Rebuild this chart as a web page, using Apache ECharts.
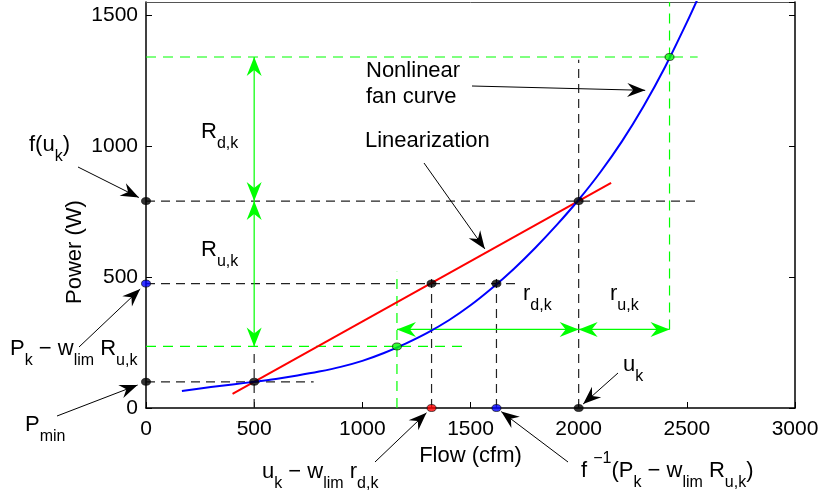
<!DOCTYPE html>
<html>
<head>
<meta charset="utf-8">
<script src="https://cdn.jsdelivr.net/npm/echarts@6/dist/echarts.min.js"></script>
<style>
  html, body { margin: 0; background: #fff; }
  #chart { width: 826px; height: 500px; }
</style>
</head>
<body>
<div id="chart"></div>
<script>
// values: flow in cfm, power in W
const xTicks = [0, 500, 1000, 1500, 2000, 2500, 3000];
const yTicks = [0, 500, 1000, 1500];
const yMax = 1550;

const fanCurve = [
  [166, 65], [300, 80], [400, 90], [500, 100], [600, 111], [700, 124],
  [800, 139], [900, 157], [1000, 180], [1100, 210], [1200, 246],
  [1300, 287], [1400, 335], [1500, 392], [1600, 458], [1700, 531],
  [1800, 612], [1900, 700], [2000, 795], [2100, 900], [2200, 1018],
  [2300, 1152], [2400, 1303], [2500, 1472], [2560, 1580]
];
const linearization = [[400, 54], [2150, 859]];

const blackPoints = [[0, 790], [0, 100], [500, 100], [1320, 475], [1620, 475], [2000, 790], [2000, 0]];
const bluePoints = [[0, 475], [1620, 0]];
const redPoints = [[1320, 0]];
const greenPoints = [[1160, 235], [2420, 1340]];

const blackGuides = [
  [[0, 790], [2550, 790]],
  [[2000, 0], [2000, 1330]],
  [[0, 475], [1720, 475]],
  [[1320, 0], [1320, 515]],
  [[1620, 0], [1620, 515]],
  [[0, 100], [775, 100]],
  [[500, 0], [500, 225]]
];
const greenGuides = [
  [[0, 1340], [2550, 1340]],
  [[2420, 300], [2420, 1550]],
  [[0, 235], [1470, 235]],
  [[1160, 0], [1160, 520]]
];
// R_d,k, R_u,k, r_d,k, r_u,k
const rangeArrows = [
  [[500, 1340], [500, 790]],
  [[500, 790], [500, 235]],
  [[1160, 300], [2000, 300]],
  [[2000, 300], [2420, 300]]
];

const FONT = '"Liberation Sans", Arial, sans-serif';
const GREEN = '#00ff00';

const chart = echarts.init(document.getElementById('chart'));

const guideSeries = (segs, color, dash) => segs.map((seg) => ({
  type: 'line',
  data: seg,
  symbol: 'none',
  silent: true,
  lineStyle: { color: color, width: 1.2, type: dash }
}));

const dots = (data, color) => ({
  type: 'scatter',
  data: data,
  symbol: 'circle',
  symbolSize: [9, 7],
  clip: false,
  z: 5,
  itemStyle: { color: color, borderColor: '#000', borderWidth: 0.8 }
});

const frameAxis = {
  type: 'value',
  axisLine: { onZero: false, lineStyle: { color: '#000', width: 1.5 } },
  axisTick: { inside: true, length: 6, lineStyle: { color: '#000' } },
  splitLine: { show: false }
};

const option = {
  animation: false,
  grid: { left: 146, right: 31, top: 2, bottom: 92, outerBoundsMode: 'none' },
  xAxis: [
    {
      ...frameAxis,
      min: xTicks[0],
      max: xTicks[xTicks.length - 1],
      interval: xTicks[1] - xTicks[0],
      name: 'Flow (cfm)',
      nameLocation: 'middle',
      nameGap: 33,
      nameTextStyle: { color: '#000', fontSize: 22, fontFamily: FONT },
      axisLabel: { color: '#000', fontSize: 21, fontFamily: FONT, margin: 11, formatter: (v) => String(v) }
    },
    {
      ...frameAxis,
      position: 'top',
      min: xTicks[0],
      max: xTicks[xTicks.length - 1],
      axisLine: { onZero: false, lineStyle: { color: '#555', width: 1 } },
      axisTick: { show: false },
      axisLabel: { show: false }
    }
  ],
  yAxis: [
    {
      ...frameAxis,
      min: yTicks[0],
      max: yMax,
      interval: yTicks[1] - yTicks[0],
      axisLabel: {
        color: '#000', fontSize: 21, fontFamily: FONT, margin: 8,
        showMaxLabel: false, formatter: (v) => String(v)
      }
    },
    {
      ...frameAxis,
      position: 'right',
      min: yTicks[0],
      max: yMax,
      interval: yTicks[1] - yTicks[0],
      axisLabel: { show: false }
    }
  ],
  series: [
    ...guideSeries(blackGuides, '#222', [9, 6]),
    ...guideSeries(greenGuides, GREEN, [10, 7]),
    ...rangeArrows.map((seg) => ({
      type: 'line', data: seg, symbol: 'none', silent: true,
      lineStyle: { color: GREEN, width: 1.2 }
    })),
    {
      type: 'line',
      data: linearization,
      symbol: 'none',
      lineStyle: { color: '#ff0000', width: 2 }
    },
    {
      type: 'line',
      data: fanCurve,
      smooth: 0.3,
      symbol: 'none',
      lineStyle: { color: '#0000ff', width: 2 }
    },
    dots(blackPoints, '#000'),
    dots(bluePoints, '#0000ff'),
    dots(redPoints, '#ff0000'),
    dots(greenPoints, GREEN)
  ]
};
chart.setOption(option);

// ---- annotations (arrows and TeX-like labels) ----
const px = (p) => chart.convertToPixel({ gridIndex: 0 }, p);

function head(tip, from, len, half, notch, color) {
  const dx = tip[0] - from[0];
  const dy = tip[1] - from[1];
  const d = Math.hypot(dx, dy);
  const ux = dx / d, uy = dy / d;
  const bx = tip[0] - ux * len, by = tip[1] - uy * len;
  return {
    type: 'polygon',
    z: 20,
    shape: {
      points: [
        tip,
        [bx - uy * half, by + ux * half],
        [tip[0] - ux * notch, tip[1] - uy * notch],
        [bx + uy * half, by - ux * half]
      ]
    },
    style: { fill: color }
  };
}

// label-side tail in pixels, target in data units
const callouts = [
  { from: [78, 167], to: [0, 790], gap: 8 },
  { from: [472, 86], to: [2340, 1212], gap: 7 },
  { from: [424, 163], to: [1577, 595], gap: 4 },
  { from: [79, 347], to: [0, 475], gap: 8 },
  { from: [57, 416], to: [0, 100], gap: 9 },
  { from: [375, 462], to: [1320, 0], gap: 7 },
  { from: [568, 462], to: [1620, 0], gap: 6 },
  { from: [618, 373], to: [2000, 0], gap: 6 }
];

const rich = {
  m: { fontSize: 22, lineHeight: 40, fontFamily: FONT, fill: '#000' },
  s: { fontSize: 16, lineHeight: 16, fontFamily: FONT, fill: '#000', verticalAlign: 'bottom' },
  p: { fontSize: 16, lineHeight: 16, fontFamily: FONT, fill: '#000', verticalAlign: 'top' }
};
const labels = [
  { x: 29, mid: 145, text: '{m|f(u}{s|k}{m|)}' },
  { x: 201, mid: 132, text: '{m|R}{s|d,k}' },
  { x: 201, mid: 250, text: '{m|R}{s|u,k}' },
  { x: 523, mid: 294, text: '{m|r}{s|d,k}' },
  { x: 610, mid: 294, text: '{m|r}{s|u,k}' },
  { x: 623, mid: 365, text: '{m|u}{s|k}' },
  { x: 10, mid: 349, text: '{m|P}{s|k}{m| − w}{s|lim}{m| R}{s|u,k}' },
  { x: 25, mid: 425, text: '{m|P}{s|min}' },
  { x: 262, mid: 472, text: '{m|u}{s|k}{m| − w}{s|lim}{m| r}{s|d,k}' },
  { x: 581, mid: 471, text: '{m|f }{p|−1}{m|(P}{s|k}{m| − w}{s|lim}{m| R}{s|u,k}{m|)}' }
];

const graphic = [];

rangeArrows.forEach(([a, b]) => {
  const pa = px(a), pb = px(b);
  graphic.push(head(pb, pa, 19, 7.5, 13, GREEN));
  graphic.push(head(pa, pb, 19, 7.5, 13, GREEN));
});

callouts.forEach((c) => {
  const t = px(c.to);
  const dx = c.from[0] - t[0], dy = c.from[1] - t[1];
  const d = Math.hypot(dx, dy);
  const tip = [t[0] + dx / d * c.gap, t[1] + dy / d * c.gap];
  graphic.push({
    type: 'line', z: 20,
    shape: { x1: c.from[0], y1: c.from[1], x2: tip[0], y2: tip[1] },
    style: { stroke: '#000', lineWidth: 1 }
  });
  graphic.push(head(tip, c.from, 18, 7, 12, '#000'));
});

labels.forEach((l) => {
  graphic.push({
    type: 'text', z: 20,
    style: { x: l.x, y: l.mid - 20, text: l.text, rich: rich, align: 'left', verticalAlign: 'top' }
  });
});

graphic.push({
  type: 'text', z: 20,
  style: {
    x: 366, y: 58, text: 'Nonlinear\nfan curve', fontSize: 22, lineHeight: 26,
    fontFamily: FONT, fill: '#000', align: 'left', verticalAlign: 'top'
  }
});
graphic.push({
  type: 'text', z: 20,
  style: {
    x: 365, y: 140.5, text: 'Linearization', fontSize: 22,
    fontFamily: FONT, fill: '#000', align: 'left', verticalAlign: 'middle'
  }
});
graphic.push({
  type: 'text', z: 20,
  x: 75, y: 252, rotation: Math.PI / 2,
  style: {
    x: 0, y: 0, text: 'Power (W)', fontSize: 22,
    fontFamily: FONT, fill: '#000', align: 'center', verticalAlign: 'middle'
  }
});

chart.setOption({ graphic: graphic });
</script>
</body>
</html>
